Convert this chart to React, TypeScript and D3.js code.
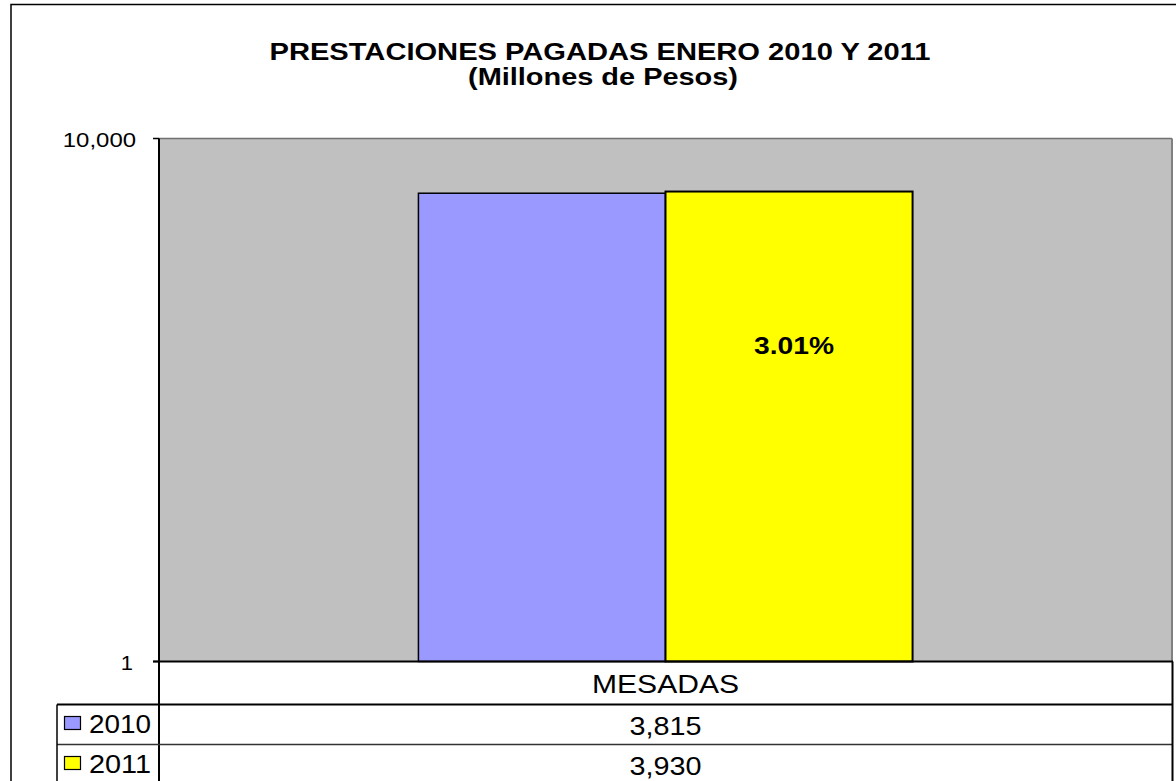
import React from "react";
import * as d3 from "d3";

const categories = ["MESADAS"];
const seriesNames = ["2010", "2011"];
const values2010 = [3815];
const values2011 = [3930];
const yTicks = [1, 10000];
const seriesColors = ["#9999FF", "#FFFF00"];
const titleLines = ["PRESTACIONES PAGADAS ENERO 2010 Y 2011", "(Millones de Pesos)"];

const FONT = "'Liberation Sans', Arial, Helvetica, sans-serif";

export default function App() {
  const W = 1176;
  const H = 781;
  const plotL = 159;
  const plotR = 1172;
  const plotT = 138.5;
  const plotB = 661.5;
  const rowH = [661.5, 704.5, 744.5, 784.5];
  const legendL = 57;

  const y = d3.scaleLog().domain([1, 10000]).range([plotB, plotT]);
  const x0 = d3.scaleBand<string>().domain(categories).range([plotL, plotR]).paddingInner(0).paddingOuter(0.525);
  const x1 = d3.scaleBand<string>().domain(seriesNames).range([0, x0.bandwidth()]);
  const seriesValues = [values2010, values2011];
  const fmt = d3.format(",");

  const pct = ((values2011[0] - values2010[0]) / values2010[0]) * 100;
  const pctLabel = pct.toFixed(2) + "%";

  return (
    <svg width={W} height={H} style={{ position: "absolute", left: 0, top: 0, display: "block" }} fontFamily={FONT}>
      <rect x={0} y={0} width={W} height={H} fill="#ffffff" />
      {/* outer chart border */}
      <rect x={11} y={4.5} width={1200} height={820} fill="none" stroke="#000" strokeWidth={1.5} />

      {/* title */}
      <text x={600} y={60} textAnchor="middle" fontWeight="bold" fontSize={23} textLength={661} lengthAdjust="spacingAndGlyphs">
        {titleLines[0]}
      </text>
      <text x={603} y={85} textAnchor="middle" fontWeight="bold" fontSize={23} textLength={270} lengthAdjust="spacingAndGlyphs">
        {titleLines[1]}
      </text>

      {/* plot area */}
      <rect x={plotL} y={plotT} width={plotR - plotL} height={plotB - plotT} fill="#C0C0C0" />
      <line x1={plotL} x2={plotR} y1={plotT} y2={plotT} stroke="#707070" strokeWidth={1.5} />
      <line x1={plotR} x2={plotR} y1={plotT} y2={plotB} stroke="#808080" strokeWidth={2} />

      {/* bars */}
      {categories.map((c, ci) =>
        seriesNames.map((s, si) => {
          const v = seriesValues[si][ci];
          const bx = (x0(c) as number) + (x1(s) as number);
          return (
            <rect
              key={c + s}
              x={bx}
              y={y(v)}
              width={x1.bandwidth()}
              height={plotB - y(v)}
              fill={seriesColors[si]}
              stroke="#000"
              strokeWidth={si === 1 ? 2 : 1.5}
            />
          );
        })
      )}

      {/* percentage label */}
      <text
        x={(x0(categories[0]) as number) + (x1("2011") as number) + x1.bandwidth() / 2 + 5}
        y={354}
        textAnchor="middle"
        fontWeight="bold"
        fontSize={23}
        textLength={80}
        lengthAdjust="spacingAndGlyphs"
      >
        {pctLabel}
      </text>

      {/* y axis */}
      <line x1={plotL} x2={plotL} y1={plotT} y2={H + 10} stroke="#000" strokeWidth={2} />
      {yTicks.map((t) => {
        const label = fmt(t);
        return (
          <g key={t}>
            <line x1={plotL - 6} x2={plotL} y1={y(t)} y2={y(t)} stroke="#000" strokeWidth={1.5} />
            <text
              x={t === 1 ? 133 : 136}
              y={y(t) + 8}
              textAnchor="end"
              fontSize={20}
              textLength={label.length * 12.2 - (label.includes(",") ? 0 : 0)}
              lengthAdjust="spacingAndGlyphs"
            >
              {label}
            </text>
          </g>
        );
      })}

      {/* data table */}
      <line x1={plotL - 6} x2={plotR + 1} y1={plotB} y2={plotB} stroke="#000" strokeWidth={2} />
      <line x1={legendL} x2={plotR + 1} y1={rowH[1]} y2={rowH[1]} stroke="#000" strokeWidth={2} />
      <line x1={legendL} x2={plotR + 1} y1={rowH[2]} y2={rowH[2]} stroke="#333" strokeWidth={1.5} />
      <line x1={legendL} x2={legendL} y1={rowH[1]} y2={H + 10} stroke="#000" strokeWidth={1.5} />
      <line x1={plotR + 0.5} x2={plotR + 0.5} y1={plotB} y2={H + 10} stroke="#000" strokeWidth={2} />

      {categories.map((c) => (
        <text
          key={c}
          x={(plotL + plotR) / 2}
          y={693}
          textAnchor="middle"
          fontSize={25.5}
          textLength={147}
          lengthAdjust="spacingAndGlyphs"
        >
          {c}
        </text>
      ))}

      {seriesNames.map((s, si) => {
        const rowTop = rowH[si + 1];
        const valueLabel = fmt(seriesValues[si][0]);
        return (
          <g key={s}>
            <rect x={64.5} y={rowTop + 12} width={16} height={13} fill={seriesColors[si]} stroke="#000" strokeWidth={1.2} />
            <text x={89} y={rowTop + 28.5} fontSize={25.5} textLength={62} lengthAdjust="spacingAndGlyphs">
              {s}
            </text>
            <text
              x={(plotL + plotR) / 2}
              y={rowTop + 30}
              textAnchor="middle"
              fontSize={25.5}
              textLength={72}
              lengthAdjust="spacingAndGlyphs"
            >
              {valueLabel}
            </text>
          </g>
        );
      })}
    </svg>
  );
}
